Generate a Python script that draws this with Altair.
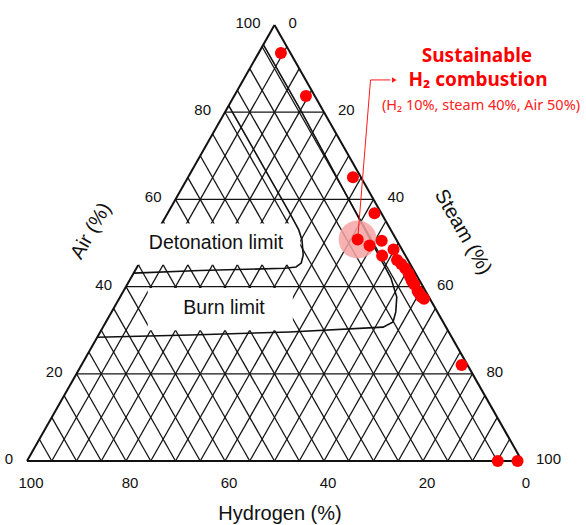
import altair as alt
import pandas as pd

# ---------------- data (percent) ----------------
# measured points: hydrogen / steam / air
pt_hydrogen = [1.9, 1.8, 1.6, 1.4, 7.8, 6.1, 3.1, 4.7, 1.7, 2.2, 1.8, 1.5, 1.4, 1.5,
               1.6, 1.5, 1.5, 1.6, 1.5, 1.2, 1.2, 4.9, 0.9]
pt_steam = [4.5, 14.5, 33.3, 41.8, 41.4, 44.5, 46.4, 48.2, 49.8, 51.7, 53.0, 54.3, 55.5,
            56.3, 57.1, 58.0, 60.0, 59.4, 60.8, 61.6, 76.8, 95.1, 99.1]
pt_air = [93.6, 83.7, 65.1, 56.8, 50.8, 49.4, 50.5, 47.1, 48.5, 46.1, 45.2, 44.2, 43.1,
          42.2, 41.3, 40.5, 38.5, 39.0, 37.7, 37.2, 22.0, 0.0, 0.0]
highlight_index = 4

# limit curves (steam, air)
det_steam = [0.0, 24.6, 28.4, 30.2, 32.2, 32.7, 32.1, 30.0, 13.1, 0.0]
det_air = [81.5, 56.9, 53.0, 50.7, 47.2, 45.4, 44.5, 44.2, 43.7, 43.1]
burn_steam = [0.0, 15.5, 35.0, 52.5, 55.9, 57.4, 58.0, 56.6, 38.3, 18.5, 0.0]
burn_air = [95.5, 80.0, 60.0, 42.0, 37.6, 34.2, 31.9, 30.7, 29.6, 28.9, 28.4]

grid_step = list(range(5, 100, 5))
air_lines = [20, 40, 60, 80]
tick_values = [0, 20, 40, 60, 80, 100]

ann_title = ["Sustainable", "H\u2082 combustion"]
ann_sub = "(H\u2082 10%, steam 40%, Air 50%)"


def tx(s, a):
    return s + a / 2.0


# ---------------- tables ----------------
grid_rows = []
for v in grid_step:
    grid_rows.append(dict(x=tx(100 - v, 0), y=0, x2=tx(0, 100 - v), y2=100 - v))
    grid_rows.append(dict(x=tx(v, 0), y=0, x2=tx(v, 100 - v), y2=100 - v))
for a in air_lines:
    grid_rows.append(dict(x=tx(0, a), y=a, x2=tx(100 - a, a), y2=a))
grid_df = pd.DataFrame(grid_rows)

edge_df = pd.DataFrame([
    dict(x=tx(0, 0), y=0, x2=tx(100, 0), y2=0),
    dict(x=tx(0, 0), y=0, x2=tx(0, 100), y2=100),
    dict(x=tx(100, 0), y=0, x2=tx(0, 100), y2=100),
])

pts_df = pd.DataFrame({"H": pt_hydrogen, "S": pt_steam, "A": pt_air})
pts_df["x"] = pts_df["S"] + pts_df["A"] / 2
pts_df["y"] = pts_df["A"]
hl_df = pts_df.iloc[[highlight_index]]
hx, hy = float(hl_df["x"].iloc[0]), float(hl_df["y"].iloc[0])

curves = []
for name, ss, aa in [("det", det_steam, det_air), ("burn", burn_steam, burn_air)]:
    for i, (s, a) in enumerate(zip(ss, aa)):
        curves.append(dict(curve=name, i=i, x=tx(s, a), y=a))
curve_df = pd.DataFrame(curves)

# white label backgrounds (cartesian plot units)
box_df = pd.DataFrame([
    dict(x=15.0, x2=55.2, y=45.0, y2=54.5),
    dict(x=24.4, x2=53.7, y=30.0, y2=39.7),
])

# arrow from the highlighted point
arrow_df = pd.DataFrame([
    dict(i=0, x=hx, y=hy),
    dict(i=1, x=69.4, y=87.4),
    dict(i=2, x=73.4, y=87.4),
])
head_df = pd.DataFrame([dict(x=74.2, y=87.4)])

air_lab = pd.DataFrame({"t": tick_values})
air_lab["x"] = [tx(0, v) for v in tick_values]
air_lab["y"] = tick_values
steam_lab = pd.DataFrame({"t": tick_values})
steam_lab["x"] = [tx(v, 100 - v) for v in tick_values]
steam_lab["y"] = [100 - v for v in tick_values]
h_lab = pd.DataFrame({"t": tick_values})
h_lab["x"] = [tx(100 - v, 0) for v in tick_values]
h_lab["y"] = 0

XS = alt.Scale(domain=[0, 100], nice=False, zero=False)
YS = alt.Scale(domain=[0, 100], nice=False, zero=False)
X = alt.X("x:Q", scale=XS, axis=None)
Y = alt.Y("y:Q", scale=YS, axis=None)
X2 = alt.X2("x2:Q")
Y2 = alt.Y2("y2:Q")

FONT = "Liberation Sans"

grid = alt.Chart(grid_df).mark_rule(color="#151515", strokeWidth=1.3).encode(x=X, y=Y, x2=X2, y2=Y2)
edges = alt.Chart(edge_df).mark_rule(color="#111", strokeWidth=2.0).encode(x=X, y=Y, x2=X2, y2=Y2)
boxes = alt.Chart(box_df).mark_rect(color="white").encode(x=X, y=Y, x2=X2, y2=Y2)
curve_lines = alt.Chart(curve_df).mark_line(color="#111", strokeWidth=1.6).encode(
    x=X, y=Y, detail="curve:N", order="i:Q")
halo = alt.Chart(hl_df).mark_circle(size=1450, color="#f6a3a3", opacity=0.85).encode(x=X, y=Y)
arrow = alt.Chart(arrow_df).mark_line(color="#ff1a1a", strokeWidth=1).encode(x=X, y=Y, order="i:Q")
head = alt.Chart(head_df).mark_point(shape="triangle-right", filled=True, size=30,
                                     color="#ff1a1a", opacity=1).encode(x=X, y=Y)
points = alt.Chart(pts_df).mark_circle(size=145, color="#ff0000", opacity=1).encode(x=X, y=Y)

air_t = alt.Chart(air_lab).mark_text(align="right", baseline="middle", dx=-14, dy=-2,
                                     fontSize=15, font=FONT, color="#111").encode(x=X, y=Y, text="t:N")
steam_t = alt.Chart(steam_lab).mark_text(align="left", baseline="middle", dx=14, dy=-2,
                                         fontSize=15, font=FONT, color="#111").encode(x=X, y=Y, text="t:N")
h_t = alt.Chart(h_lab).mark_text(align="center", baseline="middle", dx=4, dy=22,
                                 fontSize=15, font=FONT, color="#111").encode(x=X, y=Y, text="t:N")

labels_df = pd.DataFrame([
    dict(t="Detonation limit", px=189, py=218),
    dict(t="Burn limit", px=197, py=283),
])
region_t = alt.Chart(labels_df).mark_text(fontSize=19.5, font=FONT, color="#111",
                                          align="center", baseline="middle").encode(
    x=alt.X("px:Q", scale=None), y=alt.Y("py:Q", scale=None), text="t:N")

def title_text(t, px, py, angle=0, size=20):
    return alt.Chart(pd.DataFrame({"t": [t]})).mark_text(
        fontSize=size, font=FONT, color="#111", align="center", baseline="middle", angle=angle
    ).encode(x=alt.value(px), y=alt.value(py), text="t:N")

t_h = title_text("Hydrogen (%)", 253, 489)
t_air = title_text("Air (%)", 64, 206, angle=300)
t_steam = title_text("Steam (%)", 436, 207, angle=60)

ann1 = alt.Chart(pd.DataFrame({"t": [ann_title[0]]})).mark_text(
    fontSize=19, fontWeight="bold", font="Noto Sans", color="#ff0000",
    align="center", baseline="middle").encode(x=alt.value(450), y=alt.value(31), text="t:N")
ann2 = alt.Chart(pd.DataFrame({"t": [ann_title[1]]})).mark_text(
    fontSize=19, fontWeight="bold", font="Noto Sans", color="#ff0000",
    align="center", baseline="middle").encode(x=alt.value(451), y=alt.value(55), text="t:N")
ann3 = alt.Chart(pd.DataFrame({"t": [ann_sub]})).mark_text(
    fontSize=14.5, font="Noto Sans", color="#ff2020",
    align="center", baseline="middle").encode(x=alt.value(454), y=alt.value(81), text="t:N")

chart = alt.layer(
    grid, edges, boxes, curve_lines, halo, arrow, points, head,
    air_t, steam_t, h_t, region_t, t_h, t_air, t_steam, ann1, ann2, ann3
).properties(
    width=495, height=436,
    autosize=alt.AutoSizeParams(type="none"),
    padding={"left": 27, "top": 25, "right": 64, "bottom": 64},
    background="white",
).configure_view(stroke=None)

chart.save("out.html", embed_options={"renderer": "svg", "actions": False})
